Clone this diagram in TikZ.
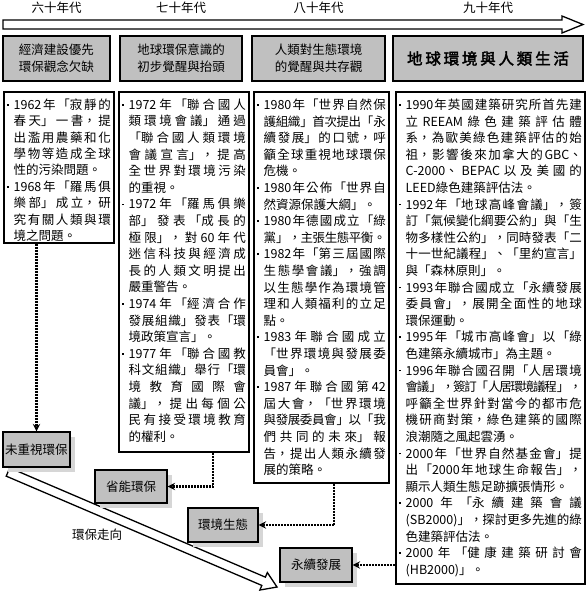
\documentclass[tikz,border=0pt]{standalone}
\usepackage{fontspec}
\setmainfont{Noto Sans CJK TC}
\newfontfamily\titlefont[FakeBold=2.5,LetterSpace=18]{Noto Sans CJK TC}
\usetikzlibrary{shapes,arrows,positioning,shadows}
\usepackage{xcolor}

\XeTeXlinebreaklocale "zh"
\XeTeXlinebreakskip=0pt plus 4pt minus 1.5pt
\XeTeXlinebreakpenalty=10000
\tolerance=10000
\hbadness=10000
\hfuzz=30pt
\lineskiplimit=-30pt
\lineskip=0pt

\definecolor{boxgray}{HTML}{C0C0C0}
\definecolor{shadowgray}{HTML}{D6D6D6}

\newcommand{\itm}{\par\hangindent=0.55em\hangafter=1\noindent\makebox[0.55em][l]{\hspace{0.5pt}\raisebox{0.3em}{\rule{1.6pt}{1.6pt}}}}
\newcommand{\nl}{\linebreak}

\begin{document}
\begin{tikzpicture}[x=1pt, y=-1pt,
    era/.style={font=\fontsize{12.5}{15}\selectfont, inner sep=0pt},
    head/.style={draw=black, line width=1.6pt, fill=boxgray, align=center, inner sep=0pt, minimum height=45pt, font=\fontsize{12.5}{17}\selectfont},
    events/.style={draw=black, line width=1.6pt, fill=white, anchor=north west, inner xsep=3pt, inner ysep=5pt, font=\fontsize{12.5}{16.6}\selectfont},
    stage/.style={draw=black, line width=1.4pt, fill=boxgray, inner sep=0pt, font=\fontsize{12.5}{15}\selectfont, drop shadow={shadow xshift=5pt, shadow yshift=-5pt, fill=shadowgray, opacity=1}},
    hollow/.style={draw=black, fill=white, line width=1.3pt, line join=miter},
    conn/.style={->, >=stealth, line width=2.2pt, dash pattern=on 2pt off 1pt}
]
\useasboundingbox (0,0) rectangle (586,592);

% time axis
\draw[hollow] (3,20) -- (562,20) -- (562,16) -- (583,24.5) -- (562,33) -- (562,29) -- (3,29) -- cycle;

\node[era] (l60) at (56.5,8) {六十年代};
\node[era] (l70) at (181,8) {七十年代};
\node[era] (l80) at (318.5,8) {八十年代};
\node[era] (l90) at (488,8) {九十年代};

% stage titles
\node[head, minimum width=107pt] (h60) at (56.5,58.5) {經濟建設優先\\環保觀念欠缺};
\node[head, minimum width=122pt] (h70) at (181,58.5) {地球環保意識的\\初步覺醒與抬頭};
\node[head, minimum width=133pt] (h80) at (318.5,58.5) {人類對生態環境\\的覺醒與共存觀};
\node[head, minimum width=190pt, font=\titlefont\fontsize{15.5}{18}\selectfont] (h90) at (488,58.5) {地球環境與人類生活};

% events
\node[events, font=\fontsize{12.5}{16.4}\selectfont] (c60) at (3,91) {\parbox[c][141pt][t]{104pt}{\vspace*{2pt}%
\itm 1962年「寂靜的\nl
春天」一書，提\nl
出濫用農藥和化\nl
學物等造成全球\nl
性的污染問題。
\itm 1968年「羅馬俱\nl
樂部」成立，研\nl
究有關人類與環\nl
境之問題。}};

\node[events] (c70) at (118,91) {\parbox[c][350pt][t]{124pt}{\vspace*{2pt}%
\itm 1972年「聯合國人\nl
類環境會議」通過\nl
「聯合國人類環境\nl
會議宣言」，提高\nl
全世界對環境污染\nl
的重視。
\itm 1972年「羅馬俱樂\nl
部」發表「成長的\nl
極限」，對60年代\nl
迷信科技與經濟成\nl
長的人類文明提出\nl
嚴重警告。
\itm 1974年「經濟合作\nl
發展組織」發表「環\nl
境政策宣言」。
\itm 1977年「聯合國教\nl
科文組織」舉行「環\nl
境教育國際會\nl
議」，提出每個公\nl
民有接受環境教育\nl
的權利。}};

\node[events] (c80) at (253,91) {\parbox[c][381pt][t]{129pt}{\vspace*{2pt}%
\itm 1980年「世界自然保\nl
護組織」首次提出「永\nl
續發展」的口號，呼\nl
籲全球重視地球環保\nl
危機。
\itm 1980年公佈「世界自\nl
然資源保護大綱」。
\itm 1980年德國成立「綠\nl
黨」，主張生態平衡。
\itm 1982年「第三屆國際\nl
生態學會議」，強調\nl
以生態學作為環境管\nl
理和人類福利的立足\nl
點。
\itm 1983年聯合國成立\nl
「世界環境與發展委\nl
員會」。
\itm 1987年聯合國第42\nl
屆大會，「世界環境\nl
與發展委員會」以「我\nl
們共同的未來」報\nl
告，提出人類永續發\nl
展的策略。}};

\node[events] (c90) at (395,91) {\parbox[c][482pt][t]{183pt}{\vspace*{2pt}%
\itm 1990年英國建築研究所首先建\nl
立REEAM綠色建築評估體\nl
系，為歐美綠色建築評估的始\nl
祖，影響後來加拿大的GBC、\nl
C-2000、BEPAC以及美國的\nl
LEED綠色建築評估法。
\itm 1992年「地球高峰會議」，簽\nl
訂「氣候變化綱要公約」與「生\nl
物多樣性公約」，同時發表「二\nl
十一世紀議程」、「里約宣言」\nl
與「森林原則」。
\itm 1993年聯合國成立「永續發展\nl
委員會」，展開全面性的地球\nl
環保運動。
\itm 1995年「城市高峰會」以「綠\nl
色建築永續城市」為主題。
\itm 1996年聯合國召開「人居環境\nl
會議」，簽訂「人居環境議程」，\nl
呼籲全世界針對當今的都市危\nl
機研商對策，綠色建築的國際\nl
浪潮隨之風起雲湧。
\itm 2000年「世界自然基金會」提\nl
出「2000年地球生命報告」，\nl
顯示人類生態足跡擴張情形。
\itm 2000年「永續建築會議\nl
(SB2000)」，探討更多先進的綠\nl
色建築評估法。
\itm 2000年「健康建築研討會\nl
(HB2000)」。}};

% trend arrow
\begin{scope}[shift={(8,472)}, rotate=-23.15]
\draw[hollow] (0,-4.5) -- (278,-4.5) -- (278,-9.5) -- (292.6,0) -- (278,9.5) -- (278,4.5) -- (0,4.5) -- cycle;
\end{scope}
\node[era] (trend) at (97,535) {環保走向};

% outcomes
\node[stage, minimum width=67pt, minimum height=35pt] (noprot) at (36.5,449.5) {未重視環保};
\node[stage, minimum width=72pt, minimum height=33pt] (energy) at (131,486.5) {省能環保};
\node[stage, minimum width=70pt, minimum height=34pt] (eco) at (223,525) {環境生態};
\node[stage, minimum width=72pt, minimum height=34pt] (sustain) at (316,565) {永續發展};

\draw[conn] (c60.south -| noprot.north) -- (noprot.north);
\draw[conn] ([xshift=29pt]c70.south) |- (energy.east);
\draw[conn] ([xshift=13pt]c80.south) |- (eco.east);
\draw[conn] (c90.west |- sustain.east) -- (sustain.east);

\end{tikzpicture}
\end{document}
